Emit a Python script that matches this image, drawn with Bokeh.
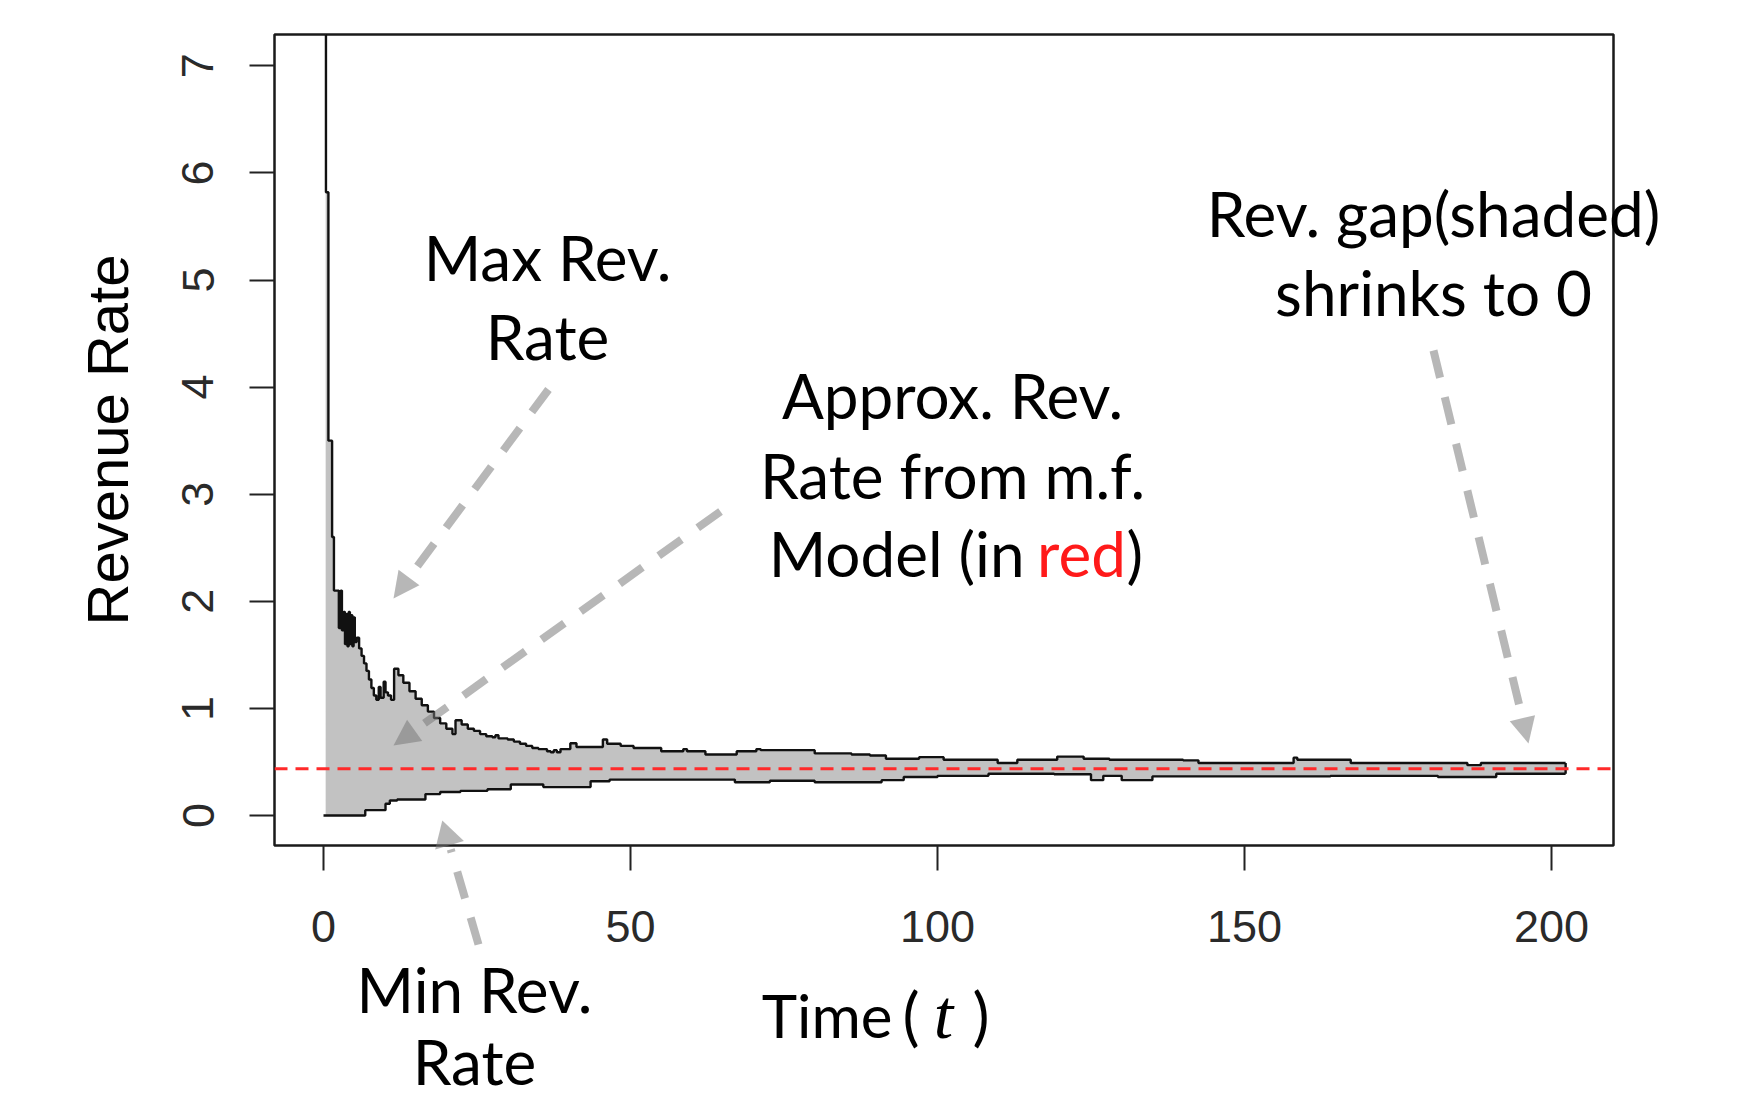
import math
import numpy as np
from bokeh.plotting import figure
from bokeh.models import Range1d, FixedTicker, Arrow, NormalHead, Span
from bokeh.core.properties import value
from bokeh.embed import file_html
from bokeh.resources import INLINE

# ---------------- data ----------------
t_max = [0.35, 0.4, 0.8, 1.4, 1.7, 2.5, 2.8, 3.0, 3.3, 3.5, 3.7, 3.9, 4.1, 4.3, 4.5,
         4.7, 4.9, 5.1, 5.4, 5.8, 6.2, 6.6, 7.0, 7.4, 7.8, 8.2, 8.6, 9.0, 9.3, 9.8,
         10.1, 10.5, 11.0, 11.5, 12.2, 13.0, 14.0, 15.0, 16.0, 17.0, 18.0, 19.0,
         20.0, 21.0, 21.5, 22.5, 23.5, 24.5, 25.5, 26.5, 27.5, 28.0, 28.5, 30.0,
         31.0, 32.0, 33.0, 34.0, 35.0, 36.4, 37.0, 37.5, 38.0, 38.6, 40.2, 41.2,
         45.5, 46.2, 48.4, 50.5, 55.0, 58.6, 59.2, 62.2, 67.3, 70.5, 71.2, 80.0,
         86.0, 89.0, 91.6, 97.0, 101.0, 109.8, 113.0, 119.5, 123.8, 128.0, 140.0,
         142.5, 158.0, 158.6, 167.3, 186.3, 188.5, 202.3]
max_rate = [7.6, 5.82, 3.50, 2.60, 2.10, 1.75, 2.10, 1.73, 1.90, 1.60, 1.88, 1.58, 1.90,
            1.60, 1.87, 1.58, 1.85, 1.62, 1.66, 1.56, 1.49, 1.42, 1.35, 1.27, 1.19,
            1.12, 1.08, 1.20, 1.10, 1.25, 1.15, 1.12, 1.08, 1.37, 1.31, 1.24, 1.16,
            1.09, 1.03, 0.97, 0.91, 0.86, 0.81, 0.76, 0.89, 0.85, 0.81, 0.79, 0.76,
            0.74, 0.73, 0.75, 0.72, 0.71, 0.69, 0.67, 0.65, 0.63, 0.62, 0.60, 0.59,
            0.61, 0.59, 0.62, 0.675, 0.64, 0.71, 0.67, 0.65, 0.63, 0.60, 0.62, 0.60,
            0.57, 0.60, 0.62, 0.61, 0.58, 0.57, 0.56, 0.53, 0.545, 0.52, 0.49, 0.52,
            0.55, 0.53, 0.52, 0.515, 0.49, 0.54, 0.52, 0.49, 0.47, 0.49, 0.49]

t_min = [0.0, 6.8, 10.1, 10.8, 12.0, 16.6, 19.0, 22.3, 26.7, 30.5, 35.8, 43.5, 46.6,
         67.0, 72.7, 80.0, 90.9, 94.5, 100.0, 108.3, 119.0, 125.0, 127.0, 130.0,
         135.0, 164.0, 181.5, 191.0, 202.3]
min_rate = [0.0, 0.05, 0.11, 0.14, 0.15, 0.20, 0.22, 0.23, 0.245, 0.29, 0.265, 0.32,
            0.335, 0.31, 0.325, 0.31, 0.33, 0.36, 0.37, 0.39, 0.385, 0.33, 0.37, 0.33,
            0.365, 0.37, 0.36, 0.39, 0.39]

approx_rate = 0.436          # red dashed line (mean-field model)
x_ticks = [0, 50, 100, 150, 200]
y_ticks = [0, 1, 2, 3, 4, 5, 6, 7]

# ---------------- helpers ----------------
def step_path(ts, vs):
    xs, ys = [ts[0]], [vs[0]]
    for i in range(1, len(ts)):
        xs += [ts[i], ts[i]]
        ys += [vs[i - 1], vs[i]]
    return xs, ys

def step_value(ts, vs, t):
    i = int(np.searchsorted(ts, t, side="right")) - 1
    return vs[max(i, 0)]

t0 = t_max[0]
lo_t = [t0] + [t for t in t_min if t > t0]
lo_v = [step_value(t_min, min_rate, t0)] + [v for t, v in zip(t_min, min_rate) if t > t0]
ux, uy = step_path(t_max, max_rate)
lx, ly = step_path(lo_t, lo_v)
poly_x = ux + lx[::-1]
poly_y = uy + ly[::-1]

# screen-pixel -> data mapping used only to place the annotations
X0_PX, PX_PER_T = 323.0, 6.14
Y0_PX, PX_PER_V = 815.0, 107.1
def dx(px):
    return (px - X0_PX) / PX_PER_T
def dy(py):
    return (Y0_PX - py) / PX_PER_V

# ---------------- figure ----------------
W, H = 1740, 1099
p = figure(width=W, height=H, output_backend="svg", toolbar_location=None,
           x_range=Range1d(dx(274), dx(1613)), y_range=Range1d(dy(845), dy(34)),
           min_border_left=274, min_border_right=W - 1613,
           min_border_top=34, min_border_bottom=H - 845)
p.background_fill_color = "white"
p.border_fill_color = "white"
p.outline_line_color = "#1a1a1a"
p.outline_line_width = 2.5
p.xgrid.visible = False
p.ygrid.visible = False

for ax in (p.xaxis[0], p.yaxis[0]):
    ax.axis_line_color = None
    ax.major_tick_out = 25
    ax.major_tick_in = 0
    ax.major_tick_line_width = 2
    ax.major_tick_line_color = "#222222"
    ax.minor_tick_line_color = None
    ax.major_label_text_font = "Liberation Sans"
    ax.major_label_text_font_size = "45px"
    ax.major_label_text_color = "#2a2a2a"
p.xaxis.ticker = FixedTicker(ticks=x_ticks)
p.yaxis.ticker = FixedTicker(ticks=y_ticks)
p.xaxis.major_label_standoff = 40
p.yaxis.major_label_standoff = 36
p.yaxis.major_label_orientation = "vertical"
p.yaxis.axis_label = "Revenue Rate"
p.yaxis.axis_label_text_font = "Liberation Sans"
p.yaxis.axis_label_text_font_size = "58px"
p.yaxis.axis_label_text_font_style = "normal"
p.yaxis.axis_label_text_color = "black"
p.yaxis.axis_label_standoff = 40

# shaded gap
p.patch(poly_x, poly_y, fill_color="#C2C2C2", line_color=None)
# max / min step curves
p.step(t_max, max_rate, mode="after", line_color="#111111", line_width=2.4)
p.step(t_min, min_rate, mode="after", line_color="#111111", line_width=2.4)
p.segment(x0=[t_max[-1]], y0=[min_rate[-1]], x1=[t_max[-1]], y1=[max_rate[-1]],
          line_color="#111111", line_width=2.4)

# red dashed approximation
p.add_layout(Span(location=approx_rate, dimension="width", line_color="#FF2A2A",
                  line_width=3, line_dash="13 8"))

# arrows (inside the frame)
ARROW_C = "#747474"
def add_arrow(x0, y0, x1, y1):
    p.add_layout(Arrow(x_start=dx(x0), y_start=dy(y0), x_end=dx(x1), y_end=dy(y1),
                       line_color=ARROW_C, line_alpha=0.52, line_width=8,
                       line_dash="28 20",
                       end=NormalHead(size=26, fill_color=ARROW_C, fill_alpha=0.52,
                                      line_alpha=0)))

add_arrow(548, 389, 393, 598)     # max
add_arrow(720, 511, 393, 745)     # approx
add_arrow(1433, 350, 1528, 743)   # gap

# min arrow crosses the frame edge: draw it with overlay-level glyphs
def glyph_arrow(x0, y0, x1, y1, head=26):
    L = math.hypot(x1 - x0, y1 - y0)
    ux_, uy_ = (x1 - x0) / L, (y1 - y0) / L
    bx, by = x1 - ux_ * head, y1 - uy_ * head
    p.line([dx(x0), dx(bx)], [dy(y0), dy(by)], line_color=ARROW_C, line_alpha=0.52,
           line_width=8, line_dash="28 20", level="overlay")
    cx, cy = x1 - ux_ * head * 0.5, y1 - uy_ * head * 0.5
    ang = math.atan2(-(y1 - y0), (x1 - x0)) - math.pi / 2
    p.scatter([dx(cx)], [dy(cy)], marker="triangle", size=head * 1.15, angle=ang,
              fill_color=ARROW_C, fill_alpha=0.52, line_alpha=0, level="overlay")

glyph_arrow(478, 944, 443, 824)   # min

# texts as overlay-level glyphs (y = visual baseline in screen px)
FONT = "Lato"
FS = "62px"
BASE_SHIFT = 25
def txt(x, y, s, align="center", color="black", font=FONT, size=FS, style="normal"):
    p.text(x=[dx(x)], y=[dy(y - BASE_SHIFT)], text=[s], text_align=align,
           text_baseline="alphabetic", text_font=value(font), text_font_size=value(size),
           text_color=color, text_font_style=style, level="overlay")

txt(547, 281, "Max Rev.")
txt(547, 360, "Rate")
txt(952, 419, "Approx. Rev.")
txt(952, 499, "Rate from m.f.")
txt(1024, 577, "Model (in", align="right")
txt(1081, 577, "red", color="#FF1A1A")
txt(1126, 577, ")", align="left")
txt(1433, 237, "Rev. gap(shaded)")
txt(1433, 316, "shrinks to 0")
txt(474, 1013, "Min Rev.")
txt(474, 1085, "Rate")
txt(892, 1039, "Time", align="right", size="60px")
txt(902, 1039, "(", align="left", size="64px")
txt(943, 1039, "t", font="Liberation Serif", style="italic", size="70px")
txt(972, 1039, ")", align="left", size="64px")

open("out.html", "w").write(file_html(p, INLINE))
